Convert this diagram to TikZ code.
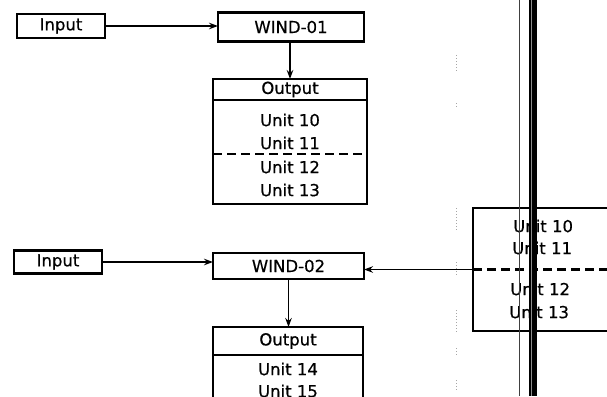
\documentclass[tikz,border=0pt]{standalone}
\usepackage{fontspec}
\setmainfont{DejaVu Sans}
\newfontfamily\lettering{DejaVu Sans}[FakeBold=0.5]
\usetikzlibrary{arrows.meta}
\begin{document}
\begin{tikzpicture}[x=1pt,y=-1pt,
  box/.style={draw,line width=2.2pt,inner sep=0pt,outer sep=0pt,font=\lettering\fontsize{16.5}{17}\selectfont},
  lbl/.style={inner sep=0pt,font=\lettering\fontsize{16.5}{17}\selectfont},
  arr/.style={line width=1.9pt,-{Stealth[length=9pt,width=6.5pt]}},
  sep/.style={line width=2.2pt},
  dsep/.style={line width=2.2pt,dash pattern=on 9pt off 5pt}]
\useasboundingbox (0,0) rectangle (607,396);
\clip (0,0) rectangle (607,396);
% top group
\node[box,minimum width=88pt,minimum height=24pt] (in1) at (61,26) {Input};
\node[box,minimum width=146pt,minimum height=29pt] (w1) at (291,27) {WIND-01};
\node[box,minimum width=154pt,minimum height=125pt] (o1) at (290,141.5) {};
\draw[sep] ([yshift=-21pt]o1.north west) coordinate (h1l) -- (h1l -| o1.east);
\draw[dsep] ([yshift=-75pt]o1.north west) coordinate (d1l) -- (d1l -| o1.east);
\node[lbl] (o1h) at (290,89.5) {Output};
\node[lbl] (u10) at (290,120) {Unit 10};
\node[lbl] (u11) at (290,143) {Unit 11};
\node[lbl] (u12) at (290,167) {Unit 12};
\node[lbl] (u13) at (290,190) {Unit 13};
\draw[arr] (in1.east) -- (in1.east -| w1.west);
\draw[arr] (w1.south -| o1.north) -- (o1.north);
% bottom group
\node[box,minimum width=88pt,minimum height=23pt] (in2) at (58,262) {Input};
\node[box,minimum width=151pt,minimum height=26pt] (w2) at (288.5,266) {WIND-02};
\node[box,minimum width=150pt,minimum height=110pt,anchor=north] (o2) at (288,327) {};
\draw[sep] ([yshift=-28pt]o2.north west) coordinate (h2l) -- (h2l -| o2.east);
\node[lbl] (o2h) at (288,341) {Output};
\node[lbl] (u14) at (288,369) {Unit 14};
\node[lbl] (u15) at (288,391) {Unit 15};
\draw[arr] (in2.east) -- (in2.east -| w2.west);
\draw[arr] (w2.south) -- (w2.south |- o2.north);
% right box
\node[box,minimum width=180pt,minimum height=123pt] (rb) at (563,269.5) {};
\draw[dsep] (rb.west) coordinate (rdl) -- ++(140,0);
\node[lbl,anchor=west] (r10) at (513,226) {Unit 10};
\node[lbl,anchor=west] (r11) at (512,248) {Unit 11};
\node[lbl,anchor=west] (r12) at (510,289) {Unit 12};
\node[lbl,anchor=west] (r13) at (509,312) {Unit 13};
\draw[arr] (rb.west) -- (rb.west -| w2.east);
% page fold
\draw[line width=1pt,black!75] (519.5,0) -- (519.5,396);
\fill[black] (529,0) rectangle (536.5,396);
\draw[line width=1.2pt,black!45] (531.5,0) -- (531.5,396);
% faint scan specks
\foreach \a/\b in {55/72,103/108,208/230,262/276,310/332,348/356,380/390}
  \draw[black!35,line width=0.5pt,dash pattern=on 1pt off 2pt] (456,\a) -- (456,\b);
\end{tikzpicture}
\end{document}
